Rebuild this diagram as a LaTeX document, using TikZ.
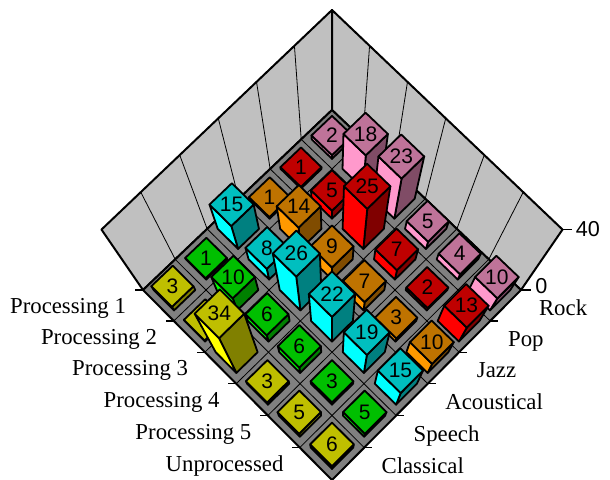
\documentclass[tikz,border=0pt]{standalone}
\usepackage{fontspec}
\setmainfont{Liberation Serif}
\newfontfamily\numfont{Liberation Sans}

\definecolor{rockc}{HTML}{FF99CC}
\definecolor{popc}{HTML}{FF0000}
\definecolor{jazzc}{HTML}{FF9900}
\definecolor{acouc}{HTML}{00FFFF}
\definecolor{speechc}{HTML}{00FF00}
\definecolor{classc}{HTML}{FFFF00}
\definecolor{wallc}{HTML}{C0C0C0}
\definecolor{floorc}{HTML}{808080}

% (processing, genre, height) -> page
\newcommand\proj[4]{%
  \pgfmathsetmacro\prjD{1-((#2)+(#3))/228}%
  \pgfmathsetmacro\prjS{222/(222-(#4))}%
  \pgfmathsetmacro\prjX{332+30.67*((#2)-(#3))/\prjD*\prjS}%
  \pgfmathsetmacro\prjY{565-(565-(28.73*((#2)+(#3))+110)/\prjD)*\prjS}%
  \coordinate (#1) at (\prjX,\prjY);}

% one column: processing, genre, value, colour
\newcommand\drawbar[4]{%
  \pgfmathsetmacro\bpa{#1+0.17}\pgfmathsetmacro\bpb{#1+0.83}%
  \pgfmathsetmacro\bga{#2+0.17}\pgfmathsetmacro\bgb{#2+0.83}%
  \proj{b0}{\bpb}{\bga}{0}\proj{c0}{\bpb}{\bgb}{0}\proj{d0}{\bpa}{\bgb}{0}%
  \proj{a1}{\bpa}{\bga}{#3}\proj{b1}{\bpb}{\bga}{#3}%
  \proj{c1}{\bpb}{\bgb}{#3}\proj{d1}{\bpa}{\bgb}{#3}%
  \proj{m1}{#1+0.5}{#2+0.5}{#3}%
  \draw[barline, fill=#4!50!black] (b0) -- (c0) -- (c1) -- (b1) -- cycle;
  \draw[barline, fill=#4] (d0) -- (c0) -- (c1) -- (d1) -- cycle;
  \draw[barline, fill=#4!75!black] (a1) -- (b1) -- (c1) -- (d1) -- cycle;
  \node[numlbl] (v#1#2) at (m1) {#3};}

\begin{document}
\begin{tikzpicture}[x=0.5pt, y=-0.5pt,
  barline/.style={draw=black, line width=0.9pt, line join=round},
  gridline/.style={draw=black, line width=0.4pt},
  numlbl/.style={font=\numfont\fontsize{10.5}{12}\selectfont, inner sep=0pt},
  catlbl/.style={font=\fontsize{11.4}{13}\selectfont, inner sep=0pt},
  axlbl/.style={font=\numfont\fontsize{10.8}{13}\selectfont, inner sep=0pt, anchor=west}]
\useasboundingbox (0,0) rectangle (610,480);

% walls
\proj{w0}{0}{0}{0}\proj{w0t}{0}{0}{40}
\proj{wl}{0}{6}{0}\proj{wlt}{0}{6}{40}
\proj{wr}{6}{0}{0}\proj{wrt}{6}{0}{40}
\draw[fill=wallc, line width=1pt, line join=round] (w0) -- (wl) -- (wlt) -- (w0t) -- cycle;
\draw[fill=wallc, line width=1pt, line join=round] (w0) -- (wr) -- (wrt) -- (w0t) -- cycle;
\foreach \k in {1,...,5}{
  \proj{ka}{0}{\k}{0}\proj{kb}{0}{\k}{40}
  \draw[gridline] (ka) -- (kb);
  \proj{ka}{\k}{0}{0}\proj{kb}{\k}{0}{40}
  \draw[gridline] (ka) -- (kb);
}
\draw[line width=1.3pt] (w0) -- (w0t);

% floor
\proj{f6}{6}{6}{0}
\draw[fill=floorc, line width=1pt, line join=round] (w0) -- (wr) -- (f6) -- (wl) -- cycle;
\foreach \k in {1,...,5}{
  \proj{ka}{\k}{0}{0}\proj{kb}{\k}{6}{0}
  \draw[gridline] (ka) -- (kb);
  \proj{ka}{0}{\k}{0}\proj{kb}{6}{\k}{0}
  \draw[gridline] (ka) -- (kb);
}

% columns, far ones first
\drawbar{0}{0}{2}{rockc}
\drawbar{0}{1}{1}{popc}
\drawbar{1}{0}{18}{rockc}
\drawbar{0}{2}{1}{jazzc}
\drawbar{2}{0}{23}{rockc}
\drawbar{1}{1}{5}{popc}
\drawbar{0}{3}{15}{acouc}
\drawbar{3}{0}{5}{rockc}
\drawbar{1}{2}{14}{jazzc}
\drawbar{2}{1}{25}{popc}
\drawbar{0}{4}{1}{speechc}
\drawbar{4}{0}{4}{rockc}
\drawbar{0}{5}{3}{classc}
\drawbar{5}{0}{10}{rockc}
\drawbar{1}{3}{8}{acouc}
\drawbar{3}{1}{7}{popc}
\drawbar{2}{2}{9}{jazzc}
\drawbar{1}{4}{10}{speechc}
\drawbar{4}{1}{2}{popc}
\drawbar{2}{3}{26}{acouc}
\drawbar{3}{2}{7}{jazzc}
\drawbar{1}{5}{1}{classc}
\drawbar{5}{1}{13}{popc}
\drawbar{2}{4}{6}{speechc}
\drawbar{4}{2}{3}{jazzc}
\drawbar{3}{3}{22}{acouc}
\drawbar{2}{5}{34}{classc}
\drawbar{5}{2}{10}{jazzc}
\drawbar{3}{4}{6}{speechc}
\drawbar{4}{3}{19}{acouc}
\drawbar{3}{5}{3}{classc}
\drawbar{5}{3}{15}{acouc}
\drawbar{4}{4}{3}{speechc}
\drawbar{4}{5}{5}{classc}
\drawbar{5}{4}{5}{speechc}
\drawbar{5}{5}{6}{classc}

% ticks and value axis
\foreach \k in {0,...,5}{\proj{ka}{\k}{6}{0}\draw[line width=0.6pt] (ka) -- ++(-8,0);}
\foreach \k in {1,...,5}{\proj{ka}{6}{\k}{0}\draw[line width=0.6pt] (ka) -- ++(8,0);}
\draw[line width=0.6pt] (wr) -- ++(10,0) coordinate (t0);
\draw[line width=0.6pt] (wrt) -- ++(9,0) coordinate (t40);
\path (t0) ++(4,-4) node[axlbl] (z0) {0};
\path (t40) ++(4,0) node[axlbl] (z40) {40};

% category labels
\foreach \k/\txt in {0/Processing 1, 1/Processing 2, 2/Processing 3, 3/Processing 4, 4/Processing 5, 5/Unprocessed}{
  \proj{ka}{\k+0.5}{6}{0}
  \path (ka) ++(-32,8) node[catlbl, anchor=base east] (lp\k) {\txt};
}
\foreach \k/\txt in {0/Rock, 1/Pop, 2/Jazz, 3/Acoustical, 4/Speech, 5/Classical}{
  \proj{ka}{6}{\k+0.5}{0}
  \path (ka) ++(33,10) node[catlbl, anchor=base west] (lg\k) {\txt};
}
\end{tikzpicture}
\end{document}
